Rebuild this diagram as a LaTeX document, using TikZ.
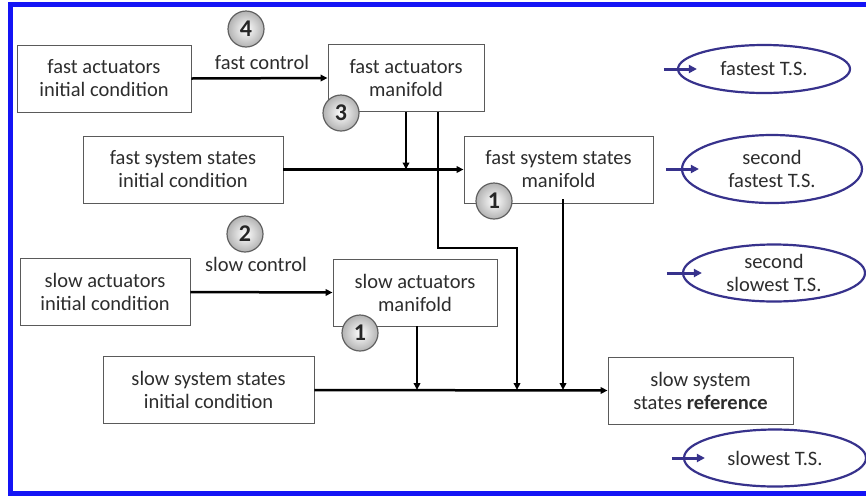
\documentclass[tikz,border=0pt]{standalone}
\usepackage{fontspec}
\setmainfont{Carlito}
\usetikzlibrary{shapes.geometric,arrows.meta,calc}
\definecolor{frameblue}{RGB}{20,20,245}
\definecolor{navy}{RGB}{55,50,140}
\definecolor{txt}{RGB}{45,45,45}
\definecolor{boxline}{RGB}{90,90,90}
\begin{document}
\begin{tikzpicture}[x=1pt,y=-1pt,
  every node/.style={font=\fontsize{20.5}{23}\selectfont, text=txt},
  blk/.style={draw=boxline, line width=0.9pt, fill=white, align=center, inner sep=0pt, minimum height=67},
  ell/.style={ellipse, draw=navy, line width=2.2pt, align=center, inner sep=0pt},
  arr/.style={line width=2.5pt, -{Triangle[length=7pt,width=6.5pt]}},
  narr/.style={draw=navy, line width=3pt, -{Triangle[length=8pt,width=8pt]}},
  num/.style={circle, draw=black!62, line width=1.2pt, inner sep=0pt, minimum size=36,
    inner color=white, outer color=black!30, text=black!85, font=\fontsize{24}{26}\selectfont\bfseries},
  lbl/.style={inner sep=0pt}]
\useasboundingbox (0,0) rectangle (866,496);
\fill[white] (0,0) rectangle (866,496);
% blue frame (open on the right)
\draw[frameblue, line width=5pt] (872,4.5) -- (10.5,4.5) -- (10.5,493) -- (872,493);

% boxes
\node[blk, minimum width=174] (fai) at (104,78.5) {fast actuators\\initial condition};
\node[blk, minimum width=156] (fam) at (406,78) {fast actuators\\manifold};
\node[blk, minimum width=200] (fsi) at (183,169.5) {fast system states\\initial condition};
\node[blk, minimum width=189] (fsm) at (558.5,169.5) {fast system states\\manifold};
\node[blk, minimum width=170] (sai) at (105,292) {slow actuators\\initial condition};
\node[blk, minimum width=164] (sam) at (415,292.5) {slow actuators\\manifold};
\node[blk, minimum width=211] (ssi) at (208.5,390) {slow system states\\initial condition};
\node[blk, minimum width=185] (ssr) at (700.5,390.5) {slow system\\states \textbf{reference}};

% labels
\node[lbl] (lfc) at (262,62) {fast control};
\node[lbl] (lsc) at (256,264) {slow control};

% connectors
\draw[arr] (fai.east) -- (fam.west);
\draw[arr] (sai.east) -- (sam.west);
\draw[arr] (fsi.east) -- (fsm.west);
\draw[arr] (ssi.east) -- (ssr.west);
\coordinate (fsline) at (fsi.east);
\coordinate (ssline) at (ssi.east);
\draw[arr] (fam.south) -- (fam.south |- fsline);
\coordinate (a1) at ([xshift=32]fam.south);
\coordinate (a2) at (517,248);
\draw[arr] (a1) |- (a2) -- (a2 |- ssline);
\coordinate (b1) at ([xshift=4.5,yshift=4]fsm.south);
\draw[arr] (b1) -- (b1 |- ssline);
\coordinate (c1) at ([xshift=2]sam.south);
\draw[arr] (c1) -- (c1 |- ssline);

% numbered circles
\node[num] (n4) at (246,29) {4};
\node[num] (n3) at (341,113) {3};
\node[num] (n1a) at (494,201) {1};
\node[num] (n2) at (245,234) {2};
\node[num] (n1b) at (360,333) {1};

% time-scale ellipses
\node[ell, minimum width=172, minimum height=48] (e1) at (764,69) {fastest T.S.};
\node[ell, minimum width=180, minimum height=68] (e2) at (772,169) {second\\fastest T.S.};
\node[ell, minimum width=182, minimum height=57] (e3) at (774,273) {second\\slowest T.S.};
\node[ell, minimum width=182, minimum height=57] (e4) at (775,458) {slowest T.S.};
\draw[narr] ([xshift=-13]e1.west) -- ([xshift=20]e1.west);
\draw[narr] ([xshift=-15]e2.west) -- ([xshift=18]e2.west);
\draw[narr] ([xshift=-15]e3.west) -- ([xshift=20]e3.west);
\draw[narr] ([xshift=-11]e4.west) -- ([xshift=22]e4.west);
\end{tikzpicture}
\end{document}
